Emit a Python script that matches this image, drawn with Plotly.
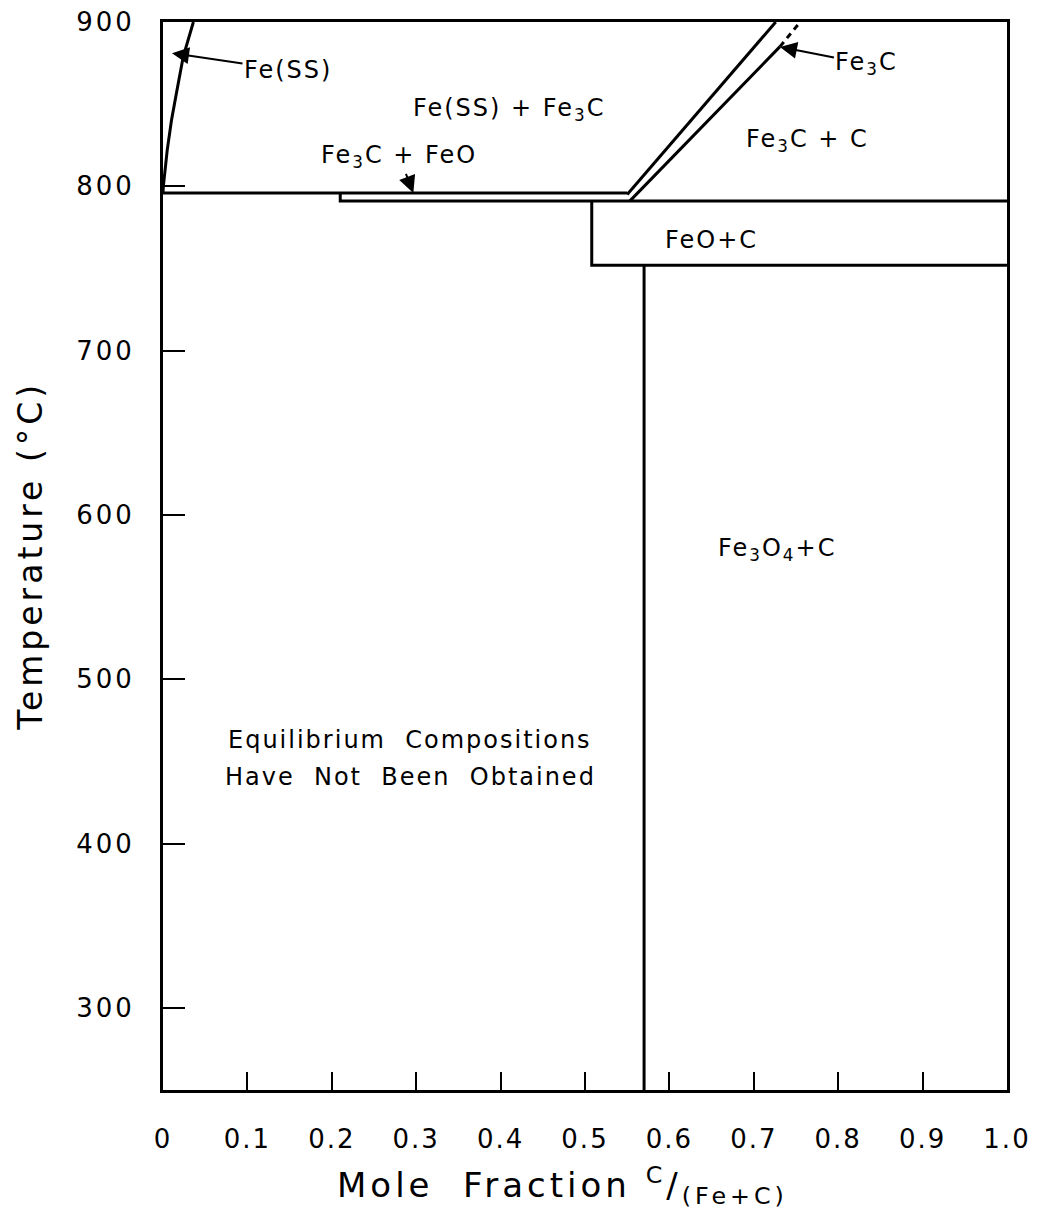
import plotly.graph_objects as go

# ---------------- data ----------------
x_tick_vals = [0.0, 0.1, 0.2, 0.3, 0.4, 0.5, 0.6, 0.7, 0.8, 0.9, 1.0]
x_tick_text = ["0", "0.1", "0.2", "0.3", "0.4", "0.5", "0.6", "0.7", "0.8", "0.9", "1.0"]
y_tick_vals = [300, 400, 500, 600, 700, 800, 900]
y_tick_text = ["300", "400", "500", "600", "700", "800", "900"]

# Fe(SS) solubility curve
fess_x = [0.0, 0.0004, 0.005, 0.010, 0.016, 0.024, 0.036]
fess_T = [796, 800, 822, 840, 857, 879, 900]

# Fe(SS)+Fe3C / Fe3C+FeO boundary
upper_x = [0.0, 0.550]
upper_T = [796, 796]

# Fe3C+FeO thin field lower boundary (continues as FeO+C top)
thin_x = [0.21, 0.21, 1.0]
thin_T = [796, 791, 791]

# FeO+C box
feo_x = [0.508, 0.508, 1.0]
feo_T = [791, 752, 752]

# Fe3O4+C boundary
mag_x = [0.57, 0.57]
mag_T = [752, 250]

# Fe3C band
fe3c_left_x = [0.550, 0.726]
fe3c_left_T = [795, 900]
fe3c_right_x = [0.553, 0.731]
fe3c_right_T = [791, 885]
fe3c_dash_x = [0.731, 0.755]
fe3c_dash_T = [885, 900]

# plain field labels: text, x, T
label_text = ["Fe(SS) + Fe<sub>3</sub>C", "Fe<sub>3</sub>C + C", "FeO+C",
              "Fe<sub>3</sub>O<sub>4</sub>+C",
              "Equilibrium  Compositions", "Have  Not  Been  Obtained"]
label_x = [0.411, 0.764, 0.650, 0.7275, 0.293, 0.293]
label_T = [846.5, 828, 767.4, 578.8, 463.3, 440.2]

# arrow labels: text, point x, point T, offsets (px)
arrow_text = ["Fe(SS)", "Fe<sub>3</sub>C + FeO", "Fe<sub>3</sub>C"]
arrow_x = [0.0107, 0.2966, 0.731]
arrow_T = [881, 796, 884.8]
arrow_ax = [116, -14, 87]
arrow_ay = [17, -36, 17]

FONT = "DejaVu Sans"
INK = "black"
LW = 3


def sp(t, ls):
    return f'<span style="letter-spacing:{ls}px">{t}</span>'


fig = go.Figure()

segments = [
    (fess_x, fess_T, "solid"),
    (upper_x, upper_T, "solid"),
    (thin_x, thin_T, "solid"),
    (feo_x, feo_T, "solid"),
    (mag_x, mag_T, "solid"),
    (fe3c_left_x, fe3c_left_T, "solid"),
    (fe3c_right_x, fe3c_right_T, "solid"),
    (fe3c_dash_x, fe3c_dash_T, "6px,5px"),
]
for xs, ts, dash in segments:
    fig.add_trace(go.Scatter(x=xs, y=ts, mode="lines",
                             line=dict(color=INK, width=LW, dash=dash),
                             showlegend=False, hoverinfo="skip"))

annotations = []
for t, x, T in zip(label_text, label_x, label_T):
    annotations.append(dict(x=x, y=T, xref="x", yref="y", text=sp(t, 2),
                            showarrow=False, font=dict(family=FONT, size=24, color=INK)))

for t, x, T, ax, ay in zip(arrow_text, arrow_x, arrow_T, arrow_ax, arrow_ay):
    annotations.append(dict(x=x, y=T, xref="x", yref="y", text=sp(t, 2),
                            showarrow=True, ax=ax, ay=ay, arrowhead=2,
                            arrowsize=1.7, arrowwidth=2, arrowcolor=INK,
                            font=dict(family=FONT, size=24, color=INK)))

# axis titles
annotations.append(dict(x=0.473, y=-0.089, xref="paper", yref="paper",
                        xanchor="center", yanchor="middle", showarrow=False,
                        text=sp("Mole  Fraction <sup>C</sup>/<sub>(Fe+C)</sub>", 4),
                        font=dict(family=FONT, size=34, color=INK)))
annotations.append(dict(x=-0.158, y=0.5, xref="paper", yref="paper",
                        xanchor="center", yanchor="middle", showarrow=False,
                        textangle=-90,
                        text=sp("Temperature (°C)", 4),
                        font=dict(family=FONT, size=33, color=INK)))

fig.update_layout(
    width=1039, height=1215,
    margin=dict(l=163, r=32, t=22, b=125, autoexpand=False),
    plot_bgcolor="white", paper_bgcolor="white",
    annotations=annotations,
    font=dict(family=FONT, color=INK),
)

fig.update_xaxes(range=[0, 1], tickvals=x_tick_vals,
                 ticktext=[sp(t, 2) for t in x_tick_text],
                 ticks="inside", ticklen=18, tickwidth=2, tickcolor=INK,
                 showline=True, mirror=True, linecolor=INK, linewidth=LW,
                 showgrid=False, zeroline=False, ticklabelstandoff=24,
                 automargin=False,
                 tickfont=dict(family=FONT, size=26, color=INK))
fig.update_yaxes(range=[250, 900], tickvals=y_tick_vals,
                 ticktext=[sp(t, 3) for t in y_tick_text],
                 ticks="inside", ticklen=22, tickwidth=2, tickcolor=INK,
                 showline=True, mirror=True, linecolor=INK, linewidth=LW,
                 showgrid=False, zeroline=False, ticklabelstandoff=20,
                 automargin=False,
                 tickfont=dict(family=FONT, size=26, color=INK))

fig.write_html("out.html")
